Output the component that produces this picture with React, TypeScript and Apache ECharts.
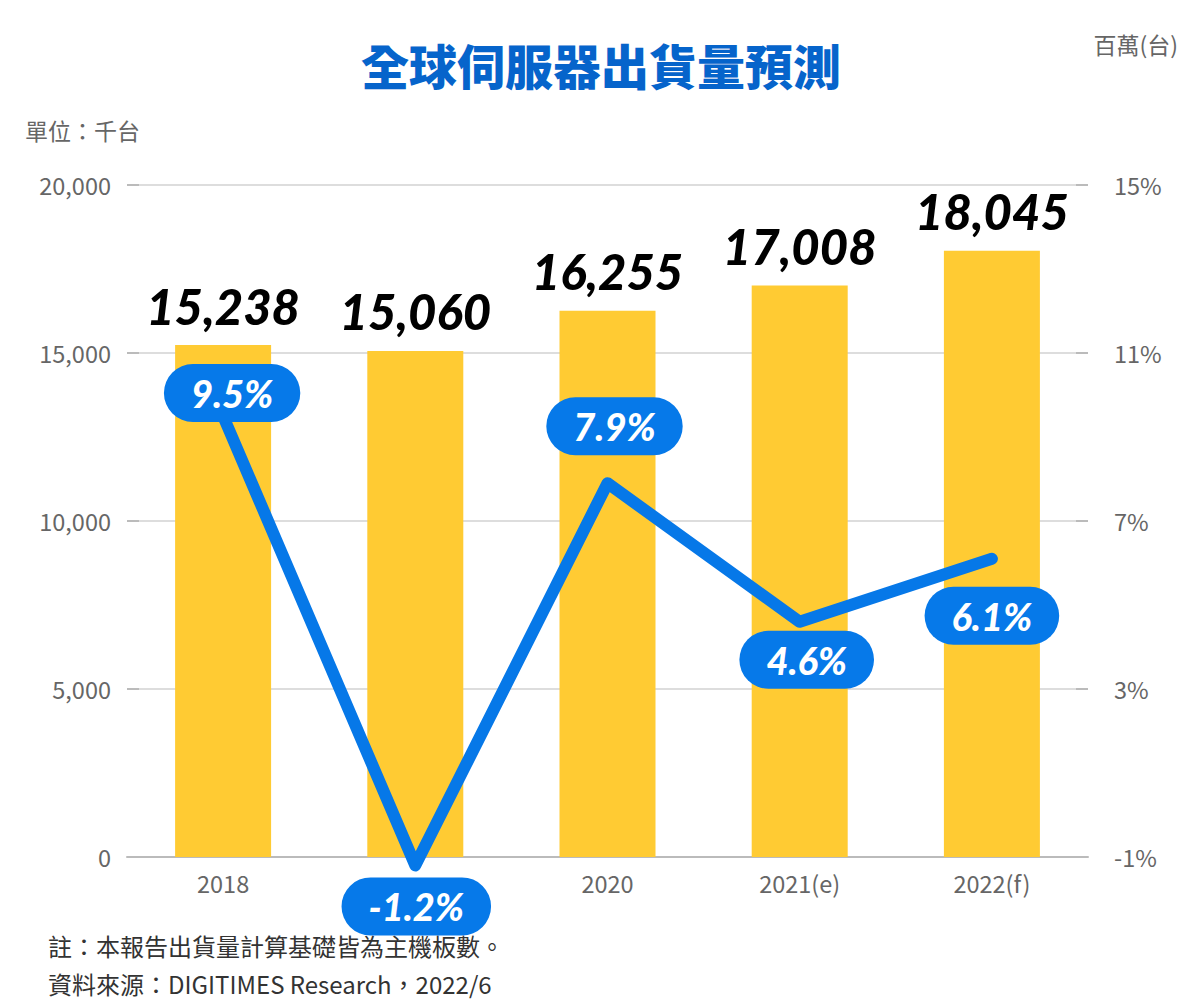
import React, { useEffect, useRef } from "react";
import * as echarts from "echarts";

const categories = ["2018", "2019", "2020", "2021(e)", "2022(f)"];
const hiddenCategoryLabels = ["2019"];
const shipments = [15238, 15060, 16255, 17008, 18045];
const growth = [9.5, -1.2, 7.9, 4.6, 6.1];
const growthLabelOffsets = [
  [9, -23],
  [1, 41],
  [7, -57],
  [7, 38],
  [0, 57],
];
const leftTicks = { min: 0, max: 20000, interval: 5000 };
const rightTicks = { min: -1, max: 15 };

const title = "全球伺服器出貨量預測";
const unitLeft = "單位：千台";
const unitRight = "百萬(台)";
const note1 = "註：本報告出貨量計算基礎皆為主機板數。";
const note2 = "資料來源：DIGITIMES Research，2022/6";

const CJK = '"Noto Sans CJK TC", "Noto Sans CJK SC", sans-serif';
const NUM = 'Lato, "Noto Sans", sans-serif';
const SYM = 2;

export default function App() {
  const ref = useRef<HTMLDivElement>(null);
  useEffect(() => {
    document.body.style.margin = "0";
    const chart = echarts.init(ref.current!, null, { renderer: "svg" });
    const option: any = {
      animation: false,
      backgroundColor: "#ffffff",
      textStyle: { fontFamily: CJK },
      grid: { left: 127, right: 112, top: 185, bottom: 143, containLabel: false },
      graphic: [
        {
          type: "text",
          x: 601,
          y: 64,
          style: {
            text: title,
            fontSize: 48,
            fontWeight: 900,
            fontFamily: CJK,
            fill: "#0664CB",
            align: "center",
            verticalAlign: "middle",
          },
        },
        {
          type: "text",
          x: 1178,
          y: 44,
          style: {
            text: unitRight,
            fontSize: 23,
            fontFamily: CJK,
            fill: "#666666",
            align: "right",
            verticalAlign: "middle",
          },
        },
        {
          type: "text",
          x: 25,
          y: 130,
          style: {
            text: unitLeft,
            fontSize: 23,
            fontFamily: CJK,
            fill: "#666666",
            align: "left",
            verticalAlign: "middle",
          },
        },
        {
          type: "text",
          x: 48,
          y: 945,
          style: {
            text: note1,
            fontSize: 24,
            fontFamily: CJK,
            fill: "#333333",
            align: "left",
            verticalAlign: "middle",
          },
        },
        {
          type: "text",
          x: 48,
          y: 983,
          style: {
            text: note2,
            fontSize: 24,
            fontFamily: CJK,
            fill: "#333333",
            align: "left",
            verticalAlign: "middle",
          },
        },
      ],
      xAxis: {
        type: "category",
        data: categories,
        axisLine: { lineStyle: { color: "#bbbbbb", width: 2 } },
        axisTick: { alignWithLabel: true, length: 9, lineStyle: { color: "#bbbbbb", width: 2 } },
        axisLabel: {
          color: "#666666",
          fontSize: 23.5,
          margin: 14,
          fontFamily: CJK,
          formatter: (v: string) => (hiddenCategoryLabels.includes(v) ? "" : v),
        },
        z: 0,
      },
      yAxis: [
        {
          type: "value",
          min: leftTicks.min,
          max: leftTicks.max,
          interval: leftTicks.interval,
          axisLine: { show: false },
          axisTick: { show: true, inside: true, length: 12, lineStyle: { color: "#bbbbbb", width: 2 } },
          splitLine: { lineStyle: { color: "#dddddd", width: 2 } },
          axisLabel: {
            color: "#666666",
            fontSize: 23.5,
            margin: 16,
            fontFamily: CJK,
            formatter: (v: number) => v.toLocaleString("en-US"),
          },
        },
        {
          type: "value",
          min: rightTicks.min,
          max: rightTicks.max,
          alignTicks: true,
          axisLine: { show: false },
          axisTick: { show: true, inside: true, length: 12, lineStyle: { color: "#bbbbbb", width: 2 } },
          splitLine: { show: false },
          axisLabel: {
            color: "#666666",
            fontSize: 23.5,
            margin: 26,
            fontFamily: CJK,
            formatter: "{value}%",
          },
        },
      ],
      series: [
        {
          type: "bar",
          data: shipments,
          yAxisIndex: 0,
          barWidth: 96,
          itemStyle: { color: "#FFCB33" },
          label: {
            show: true,
            position: "top",
            distance: 15,
            fontSize: 49,
            fontWeight: 900,
            fontStyle: "italic",
            fontFamily: NUM,
            color: "#000000",
            formatter: (p: any) => Number(p.value).toLocaleString("en-US"),
          },
          z: 1,
        },
        {
          type: "line",
          data: growth.map((v, i) => ({
            value: v,
            label: {
              position: [SYM / 2 + growthLabelOffsets[i][0], SYM / 2 + growthLabelOffsets[i][1]],
            },
          })),
          yAxisIndex: 1,
          clip: false,
          symbol: "circle",
          symbolSize: SYM,
          showSymbol: true,
          showAllSymbol: true,
          lineStyle: { color: "#0678E8", width: 12, cap: "round", join: "round" },
          itemStyle: { color: "#0678E8" },
          label: {
            show: true,
            align: "center",
            verticalAlign: "middle",
            fontSize: 38,
            lineHeight: 38,
            fontWeight: 900,
            fontStyle: "italic",
            fontFamily: NUM,
            color: "#ffffff",
            backgroundColor: "#0679E9",
            borderRadius: 29,
            padding: [10, 27],
            formatter: (p: any) => p.value + "%",
          },
          labelLayout: { hideOverlap: false },
          z: 5,
        },
      ],
    };
    chart.setOption(option);
    return () => chart.dispose();
  }, []);
  return (
    <div
      ref={ref}
      style={{ position: "absolute", left: 0, top: 0, width: 1200, height: 1000 }}
    />
  );
}
